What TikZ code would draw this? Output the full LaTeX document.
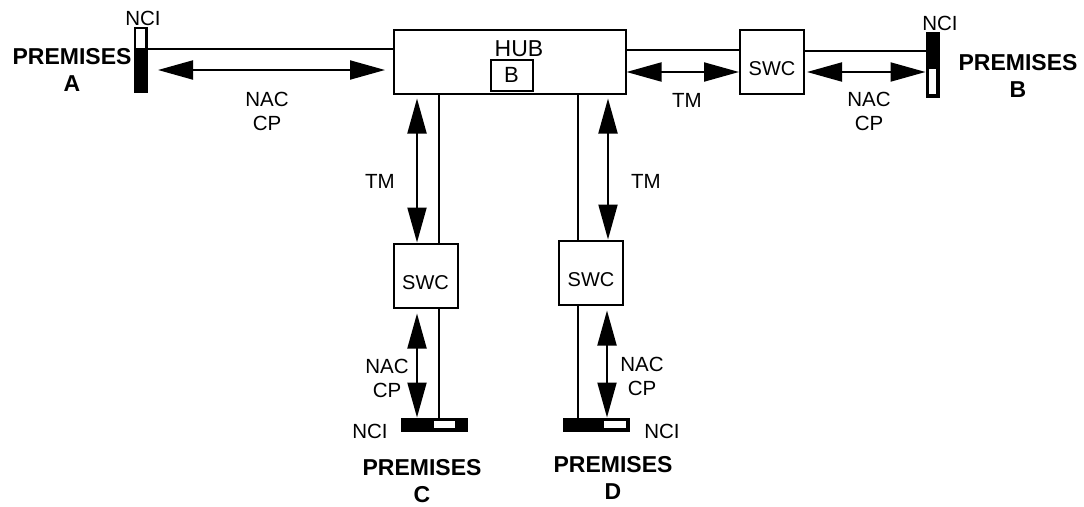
\documentclass[tikz,border=0pt]{standalone}
\usepackage{fontspec}
\setmainfont{Liberation Sans}
\usetikzlibrary{arrows.meta}

\begin{document}
\begin{tikzpicture}[x=1pt, y=-1pt, >={Triangle[length=35pt,width=19pt]},
    box/.style={draw, line width=2pt, inner sep=0pt, fill=white},
    swc/.style={box, minimum width=64pt, minimum height=64pt,
                font=\fontsize{20}{24}\selectfont, text height=27.5pt, text depth=0pt},
    bar/.style={draw, line width=2pt, inner sep=0pt, fill=black},
    barhole/.style={fill=white, inner sep=0pt},
    wire/.style={line width=2pt},
    bidir/.style={<->, line width=2pt},
    lbl/.style={font=\fontsize{20.5}{24}\selectfont, align=center, inner sep=0pt},
    site/.style={font=\fontsize{23}{27}\selectfont\bfseries, align=center, inner sep=0pt}]
    \useasboundingbox (0,0) rectangle (1084,506);

    % hub with bridge
    \node[box, minimum width=232pt, minimum height=64pt] (hub) at (509.5,61.5) {};
    \node[lbl, font=\fontsize{23}{27}\selectfont] (hubname) at (519,49) {HUB};
    \node[box, minimum width=42pt, minimum height=31pt, font=\fontsize{22}{26}\selectfont] (bridge) at (511.5,75) {B};

    % switching centres
    \node[swc] (swcB) at (772,62) {SWC};
    \node[swc] (swcC) at (425.5,275.5) {SWC};
    \node[swc] (swcD) at (591,272.5) {SWC};

    % network connection interfaces
    \node[bar, minimum width=12pt, minimum height=64pt] (nciA) at (140.5,59.5) {};
    \node[barhole, minimum width=8.5pt, minimum height=19pt] (nciAhole) at (140.5,38.5) {};
    \node[bar, minimum width=12pt, minimum height=64pt] (nciB) at (932.5,64.5) {};
    \node[barhole, minimum width=6.5pt, minimum height=25pt] (nciBhole) at (932.5,81.5) {};
    \node[bar, minimum width=65pt, minimum height=12pt] (nciC) at (434,424.5) {};
    \node[barhole, minimum width=21pt, minimum height=6.5pt] (nciChole) at (444.5,424.5) {};
    \node[bar, minimum width=65pt, minimum height=12pt] (nciD) at (596,424.5) {};
    \node[barhole, minimum width=22pt, minimum height=6.5pt] (nciDhole) at (615,424.5) {};

    \node[lbl] (nciAname) at (143,18.5) {NCI};
    \node[lbl] (nciBname) at (940,23.5) {NCI};
    \node[lbl] (nciCname) at (370,431) {NCI};
    \node[lbl] (nciDname) at (662,431) {NCI};

    % premises
    \node[site] (premA) at (72,69.8) {PREMISES\\A};
    \node[site] (premB) at (1018,76) {PREMISES\\B};
    \node[site] (premC) at (422,481.5) {PREMISES\\C};
    \node[site] (premD) at (613,478) {PREMISES\\D};

    % premises A
    \draw[wire] ([yshift=10.5pt]nciA.east) -- ([yshift=12.5pt]hub.west);
    \draw[bidir] ([xshift=10.5pt,yshift=-10.5pt]nciA.east) -- ([xshift=-7.5pt,yshift=-8.5pt]hub.west);
    \node[lbl] (nacA) at (267,111.4) {NAC\\CP};

    % premises B
    \draw[wire] ([yshift=11.5pt]hub.east) -- ([yshift=12pt]swcB.west);
    \draw[bidir] ([yshift=-10.5pt]hub.east) -- ([yshift=-10pt]swcB.west);
    \node[lbl] (tmB) at (687,100) {TM};
    \draw[wire] ([yshift=11pt]swcB.east) -- ([yshift=13.5pt]nciB.west);
    \draw[bidir] ([xshift=2pt,yshift=-10pt]swcB.east) -- ([yshift=-7.5pt]nciB.west);
    \node[lbl] (nacB) at (869,111.3) {NAC\\CP};

    % premises C
    \draw[wire] ([xshift=-70.5pt]hub.south) -- ([xshift=13.5pt]swcC.north);
    \draw[wire] ([xshift=13.5pt]swcC.south) -- ([xshift=5pt]nciC.north);
    \draw[bidir] ([xshift=-92.5pt,yshift=-4pt]hub.south) -- ([xshift=-8.5pt]swcC.north);
    \draw[bidir] ([xshift=-8.5pt,yshift=-5pt]swcC.south) -- ([xshift=-17pt]nciC.north);
    \node[lbl] (tmC) at (380,181) {TM};
    \node[lbl] (nacC) at (387,378) {NAC\\CP};

    % premises D
    \draw[wire] ([xshift=68.5pt]hub.south) -- ([xshift=-13pt]swcD.north);
    \draw[wire] ([xshift=-13pt]swcD.south) -- ([xshift=-18pt]nciD.north);
    \draw[bidir] ([xshift=98.5pt,yshift=-4pt]hub.south) -- ([xshift=17pt]swcD.north);
    \draw[bidir] ([xshift=16pt,yshift=-5pt]swcD.south) -- ([xshift=11pt]nciD.north);
    \node[lbl] (tmD) at (646,181) {TM};
    \node[lbl] (nacD) at (642,376.5) {NAC\\CP};
\end{tikzpicture}
\end{document}
